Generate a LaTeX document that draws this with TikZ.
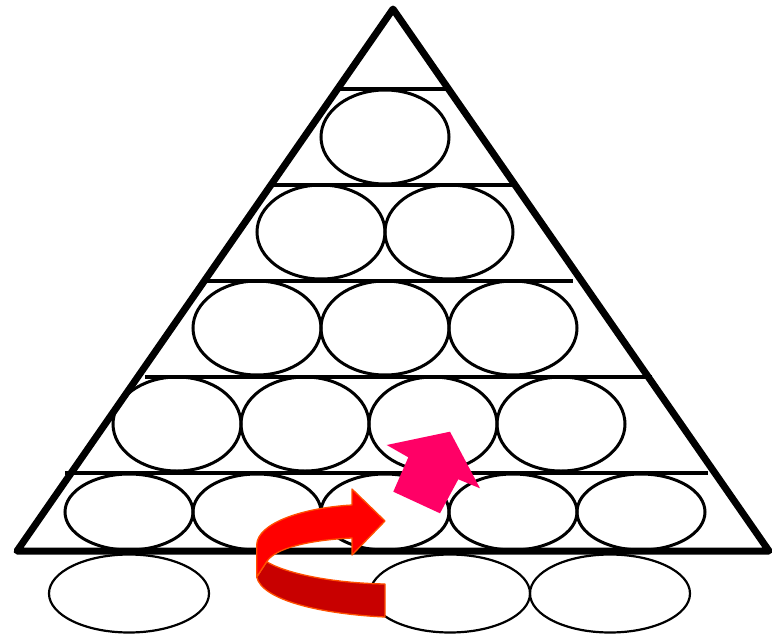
\documentclass[tikz,border=0pt]{standalone}
\begin{document}
\begin{tikzpicture}[x=1pt,y=-1pt,
  tri/.style={line width=7pt,line join=round,line cap=round},
  shelf/.style={line width=3.6pt},
  cell/.style={line width=3pt},
  base/.style={line width=2.2pt},
  redfront/.style={fill=red,draw={rgb,255:red,255;green,80;blue,0},line width=1.3pt,line join=round},
  redback/.style={fill={rgb,255:red,200;green,0;blue,0},draw={rgb,255:red,255;green,80;blue,0},line width=1.3pt,line join=round},
  pinkarrow/.style={fill={rgb,255:red,255;green,0;blue,102},draw=none}]
\fill[white] (0,0) rectangle (772,635);
\useasboundingbox (0,0) rectangle (772,635);
% shelves
\draw[shelf] (336,89) -- (449,89);
\draw[shelf] (273,185) -- (514,185);
\draw[shelf] (207,281) -- (573,281);
\draw[shelf] (145,377) -- (652,377);
\draw[shelf] (65,473) -- (708,473);
% cells
\draw[cell] (385,137) ellipse [x radius=64,y radius=47];
\foreach \cx in {321,449} \draw[cell] (\cx,232) ellipse [x radius=64,y radius=47];
\foreach \cx in {257,385,513} \draw[cell] (\cx,328) ellipse [x radius=64,y radius=47];
\foreach \cx in {177,305,433,561} \draw[cell] (\cx,424) ellipse [x radius=64,y radius=47];
\foreach \cx in {129,257,385,513,641} \draw[cell] (\cx,512) ellipse [x radius=64,y radius=38];
% base ellipses
\foreach \cx in {129,450,610} \draw[base] (\cx,593.5) ellipse [x radius=80,y radius=39];
% triangle
\draw[tri] (393,9) -- (769,551) -- (17,551) -- cycle;
% red u-turn arrow
\draw[redback] (256.7,577) -- (266.7,561.7) .. controls (285,573) and (330,583) .. (385,584) -- (385,617) .. controls (320,614) and (262,600) .. (256.7,577) -- cycle;
\draw[redfront] (256.7,577) -- (256.7,545) .. controls (257,524) and (300,508) .. (352,505) -- (352,489) -- (385,521) -- (352,555) -- (352,538) .. controls (310,540) and (275,548) .. (266.7,561.7) -- cycle;
% pink arrow
\fill[pinkarrow] (393.3,491.7) -- (408.3,457.3) -- (386.7,445) -- (450,431.7) -- (480,488.3) -- (458.3,479.3) -- (440,513.3) -- cycle;
\end{tikzpicture}
\end{document}
